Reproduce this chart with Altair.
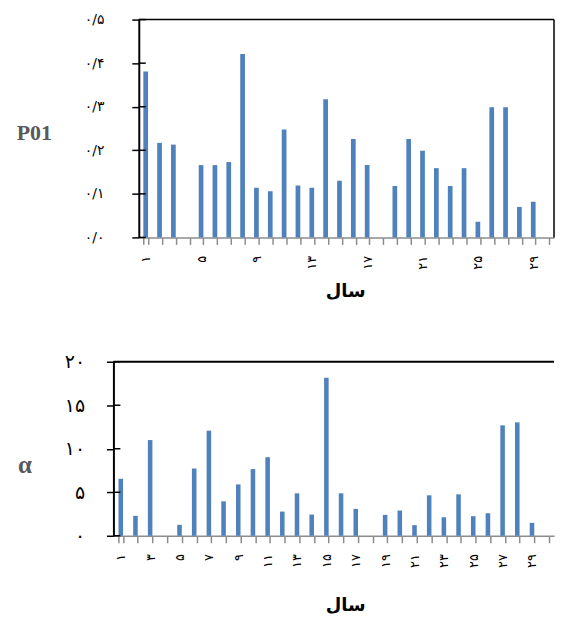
import json
import altair as alt
import pandas as pd

# ---------------- data ----------------
years = ["۱", "۲", "۳", "۴", "۵", "۶", "۷", "۸", "۹", "۱۰",
         "۱۱", "۱۲", "۱۳", "۱۴", "۱۵", "۱۶", "۱۷", "۱۸", "۱۹", "۲۰",
         "۲۱", "۲۲", "۲۳", "۲۴", "۲۵", "۲۶", "۲۷", "۲۸", "۲۹", "۳۰"]

p01 = [0.381, 0.217, 0.213, 0.0, 0.166, 0.166, 0.173, 0.421, 0.114, 0.106,
       0.248, 0.119, 0.114, 0.317, 0.130, 0.226, 0.166, 0.0, 0.118, 0.226,
       0.199, 0.159, 0.118, 0.159, 0.036, 0.299, 0.299, 0.070, 0.082, 0.0]

alpha = [6.55, 2.29, 11.0, 0.0, 1.26, 7.73, 12.08, 3.96, 5.90, 7.66,
         9.03, 2.78, 4.88, 2.44, 18.17, 4.88, 3.09, 0.0, 2.40, 2.90,
         1.22, 4.65, 2.13, 4.76, 2.25, 2.59, 12.69, 13.03, 1.49, 0.0]

top_x_labels = ["۱", "۵", "۹", "۱۳", "۱۷", "۲۱", "۲۵", "۲۹"]
bottom_x_labels = ["۱", "۳", "۵", "۷", "۹", "۱۱", "۱۳", "۱۵",
                   "۱۷", "۱۹", "۲۱", "۲۳", "۲۵", "۲۷", "۲۹"]

p01_ticks = [0, 0.1, 0.2, 0.3, 0.4, 0.5]
p01_tick_labels = ["۰/۰", "۰/۱", "۰/۲", "۰/۳", "۰/۴", "۰/۵"]
alpha_ticks = [0, 5, 10, 15, 20]
alpha_tick_labels = ["۰", "۵", "۱۰", "۱۵", "۲۰"]

x_title = "سال"

# ---------------- style ----------------
BAR = "#4F81BD"
FONT = "DejaVu Sans"
SERIF = "Liberation Serif"
SHIFT = 25.5                      # top plot starts this far right of bottom plot
TOP_W, TOP_H = 443, 219           # includes the shift
BOT_W, BOT_H = 443, 175


def js(v):
    return json.dumps(v, ensure_ascii=False)


def shown(labels):
    return f"indexof({js(labels)}, datum.value) >= 0 ? datum.value : ''"


def mapped(values, labels):
    return f"{js(labels)}[indexof({js(values)}, datum.value)]"


def x_axis(labels, tx, ty):
    return alt.Axis(
        title=x_title, titleFont=FONT, titleFontSize=18, titleFontWeight="bold",
        titleColor="black", titleX=tx, titleY=ty, titleAlign="center",
        titleBaseline="middle",
        labelExpr=shown(labels), labelAngle=-90, labelAlign="right",
        labelBaseline="middle", labelPadding=11, labelFont=FONT, labelFontSize=13,
        labelColor="black", labelOverlap=False,
        tickBand="extent", tickSize=7, tickColor="#8c8c8c", tickWidth=1.5,
        domainColor="#8c8c8c", domainWidth=1.5, grid=False,
    )


def y_axis(values, labels, title, tx, ty, lab_size, lab_pad, title_size, offset=0):
    return alt.Axis(
        values=values, labelExpr=mapped(values, labels),
        title=title, titleAngle=0, titleX=tx, titleY=ty, titleAlign="center",
        titleBaseline="middle", titleFont=SERIF, titleFontSize=title_size,
        titleFontWeight="bold", titleColor="#595959",
        labelFont=FONT, labelFontSize=lab_size, labelColor="black",
        labelPadding=lab_pad, offset=offset,
        tickSize=7, tickColor="black", tickWidth=1.5,
        domainColor="black", domainWidth=2, grid=False,
    )


# ---------------- top chart ----------------
df1 = pd.DataFrame({"year": years, "p01": p01})
tick1 = pd.DataFrame({"v": p01_ticks})
ax1 = y_axis(p01_ticks, p01_tick_labels, "P01", -105.5, 114, 14, 28, 22, -SHIFT)
sc1 = alt.Scale(domain=[0, 0.5], nice=False)

top_bars = alt.Chart(df1).mark_bar(color=BAR).encode(
    x=alt.X("year:N", sort=years,
            scale=alt.Scale(range=[SHIFT, TOP_W], paddingInner=0.66, paddingOuter=0.33),
            axis=x_axis(top_x_labels, 233, 54)),
    y=alt.Y("p01:Q", scale=sc1, axis=ax1),
)
top_inner = alt.Chart(tick1).mark_rule(color="black", strokeWidth=1.5).encode(
    y=alt.Y("v:Q", scale=sc1, axis=ax1), x=alt.value(SHIFT), x2=alt.value(SHIFT + 7)
)
one = pd.DataFrame({"a": [0]})
top_border = alt.Chart(one).mark_rule(color="black", strokeWidth=1.5).encode(
    y=alt.value(0), x=alt.value(SHIFT), x2=alt.value(TOP_W)
)
right_border = alt.Chart(one).mark_rule(color="black", strokeWidth=1.5).encode(
    x=alt.value(TOP_W), y=alt.value(0), y2=alt.value(TOP_H)
)
top = alt.layer(top_bars, top_inner, top_border, right_border).properties(
    width=TOP_W, height=TOP_H,
    view=alt.ViewBackground(stroke="transparent"),
)

# ---------------- bottom chart ----------------
df2 = pd.DataFrame({"year": years, "alpha": alpha})
tick2 = pd.DataFrame({"v": alpha_ticks})
ax2 = y_axis(alpha_ticks, alpha_tick_labels, "α", -89.5, 103, 19, 22, 25)
sc2 = alt.Scale(domain=[0, 20], nice=False)

bot_bars = alt.Chart(df2).mark_bar(color=BAR).encode(
    x=alt.X("year:N", sort=years,
            scale=alt.Scale(paddingInner=0.69, paddingOuter=0.345),
            axis=x_axis(bottom_x_labels, 233, 70)),
    y=alt.Y("alpha:Q", scale=sc2, axis=ax2),
)
bot_inner = alt.Chart(tick2).mark_rule(color="black", strokeWidth=1.5).encode(
    y=alt.Y("v:Q", scale=sc2, axis=ax2), x=alt.value(0), x2=alt.value(7)
)
bot_top_line = alt.Chart(one).mark_rule(color="black", strokeWidth=2).encode(
    y=alt.value(0), x=alt.value(0), x2=alt.value(BOT_W)
)
bottom = alt.layer(bot_bars, bot_inner, bot_top_line).properties(
    width=BOT_W, height=BOT_H,
    view=alt.ViewBackground(stroke="transparent"),
)

chart = alt.vconcat(top, bottom, spacing=51).properties(
    padding={"left": 7, "top": 2, "right": 0, "bottom": 0},
    background="white",
)

chart.save("out.html", embed_options={"renderer": "svg", "actions": False})
